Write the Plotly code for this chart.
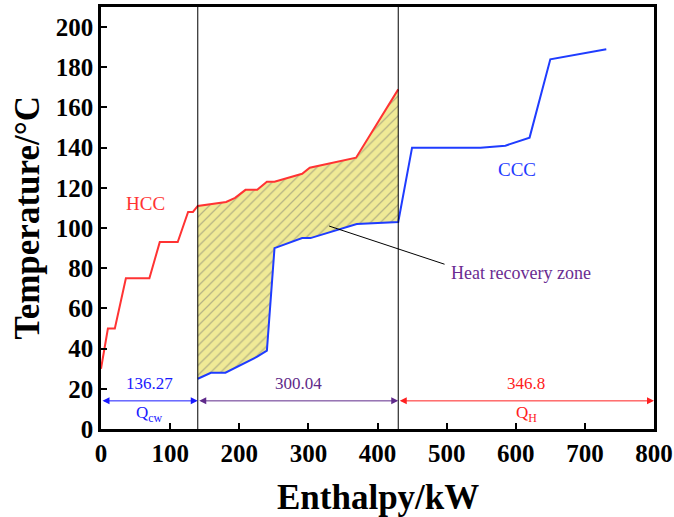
import plotly.graph_objects as go

# Hot composite curve (HCC)
hcc_h = [0, 10, 20, 36, 70, 85, 111, 126, 133, 140, 181, 194, 209, 226, 240, 251, 291, 302, 369, 430]
hcc_t = [30, 50, 50, 75, 75, 93, 93, 108, 108, 111, 113, 115, 119, 119, 123, 123, 127, 130, 135, 169]
# Cold composite curve (CCC)
ccc_h = [140, 159, 180, 226, 240, 251, 291, 303, 370, 430, 450, 549, 585, 620, 650, 731]
ccc_t = [25, 28, 28, 36, 39, 90, 95, 95, 102, 103, 140, 140, 141, 145, 184, 189]

# Zone boundaries (enthalpy) and duties
bounds = [0, 140, 430, 800]
duty_labels = ["136.27", "300.04", "346.8"]
duty_names = ["Q<sub>cw</sub>", "", "Q<sub>H</sub>"]
duty_colors = ["#1a1aff", "#5f2a8a", "#ff2020"]

FONT = "Liberation Serif, Times New Roman, serif"
RED = "#ff3333"
BLUE = "#1f3cff"
PURPLE = "#6a2c91"

fig = go.Figure()

# heat recovery zone polygon built from curve data
lo, hi = bounds[1], bounds[2]
zone_x = [h for h in hcc_h if lo <= h <= hi]
zone_y = [t for h, t in zip(hcc_h, hcc_t) if lo <= h <= hi]
cz = [(h, t) for h, t in zip(ccc_h, ccc_t) if lo <= h <= hi][::-1]
zone_x += [p[0] for p in cz] + [zone_x[0]]
zone_y += [p[1] for p in cz] + [zone_y[0]]
fig.add_trace(go.Scatter(
    x=zone_x, y=zone_y, mode="lines", fill="toself", line=dict(width=0),
    fillcolor="#f0ea96",
    fillpattern=dict(shape="/", bgcolor="#f0ea96", fgcolor="#7a7a72", size=7, solidity=0.18),
    hoverinfo="skip", showlegend=False))

fig.add_trace(go.Scatter(x=hcc_h, y=hcc_t, mode="lines", line=dict(color=RED, width=2), showlegend=False))
fig.add_trace(go.Scatter(x=ccc_h, y=ccc_t, mode="lines", line=dict(color=BLUE, width=2), showlegend=False))

# vertical boundary lines
for b in bounds[1:3]:
    fig.add_shape(type="line", x0=b, x1=b, y0=0, y1=1, xref="x", yref="paper",
                  line=dict(color="black", width=1))

# duty arrows and labels
for i in range(3):
    a, b = bounds[i], bounds[i + 1]
    c = duty_colors[i]
    fig.add_annotation(x=b, y=14, ax=a, ay=14, xref="x", yref="y", axref="x", ayref="y",
                       text="", showarrow=True, arrowhead=2, startarrowhead=2, arrowside="end+start",
                       arrowsize=1.4, arrowwidth=1, arrowcolor=c)
    fig.add_annotation(x=(a + b) / 2, y=22.5, text=duty_labels[i], showarrow=False,
                       font=dict(family=FONT, size=17, color=c))
    if duty_names[i]:
        fig.add_annotation(x=(a + b) / 2, y=7.5, text=duty_names[i], showarrow=False,
                           font=dict(family=FONT, size=17, color=c))

fig.add_annotation(x=64, y=112, text="HCC", showarrow=False, font=dict(family=FONT, size=19, color=RED))
fig.add_annotation(x=602, y=129, text="CCC", showarrow=False, font=dict(family=FONT, size=19, color=BLUE))

fig.add_shape(type="line", x0=330, y0=101, x1=497, y1=82, xref="x", yref="y",
              line=dict(color="black", width=1))
fig.add_annotation(x=503, y=77.5, text="Heat recovery zone", showarrow=False, xanchor="left",
                   font=dict(family=FONT, size=18, color=PURPLE))

# axis titles
fig.add_annotation(x=0.5, y=-0.163, xref="paper", yref="paper", text="<b>Enthalpy/kW</b>",
                   showarrow=False, yanchor="middle",
                   font=dict(family=FONT, size=35, color="black"))
fig.add_annotation(x=-0.133, y=0.5, xref="paper", yref="paper", text="<b>Temperature/°C</b>",
                   showarrow=False, textangle=-90, xanchor="center", yanchor="middle",
                   font=dict(family=FONT, size=35, color="black"))

axis_common = dict(showline=True, linewidth=2.5, linecolor="black", mirror=True,
                   ticks="inside", ticklen=6, tickwidth=2, tickcolor="black",
                   showgrid=False, zeroline=False, automargin=False,
                   tickfont=dict(family=FONT, size=25, color="black", weight="bold"))

fig.update_xaxes(range=[0, 800], tickvals=list(range(0, 801, 100)), **axis_common)
fig.update_yaxes(range=[0, 210], tickvals=list(range(0, 201, 20)), **axis_common)

fig.update_layout(width=674, height=517, margin=dict(l=101, r=20, t=7, b=88),
                  plot_bgcolor="white", paper_bgcolor="white", showlegend=False)

fig.write_html("out.html", config={"displayModeBar": False},
               post_script="document.body.style.margin='0';document.body.style.overflow='hidden';")
